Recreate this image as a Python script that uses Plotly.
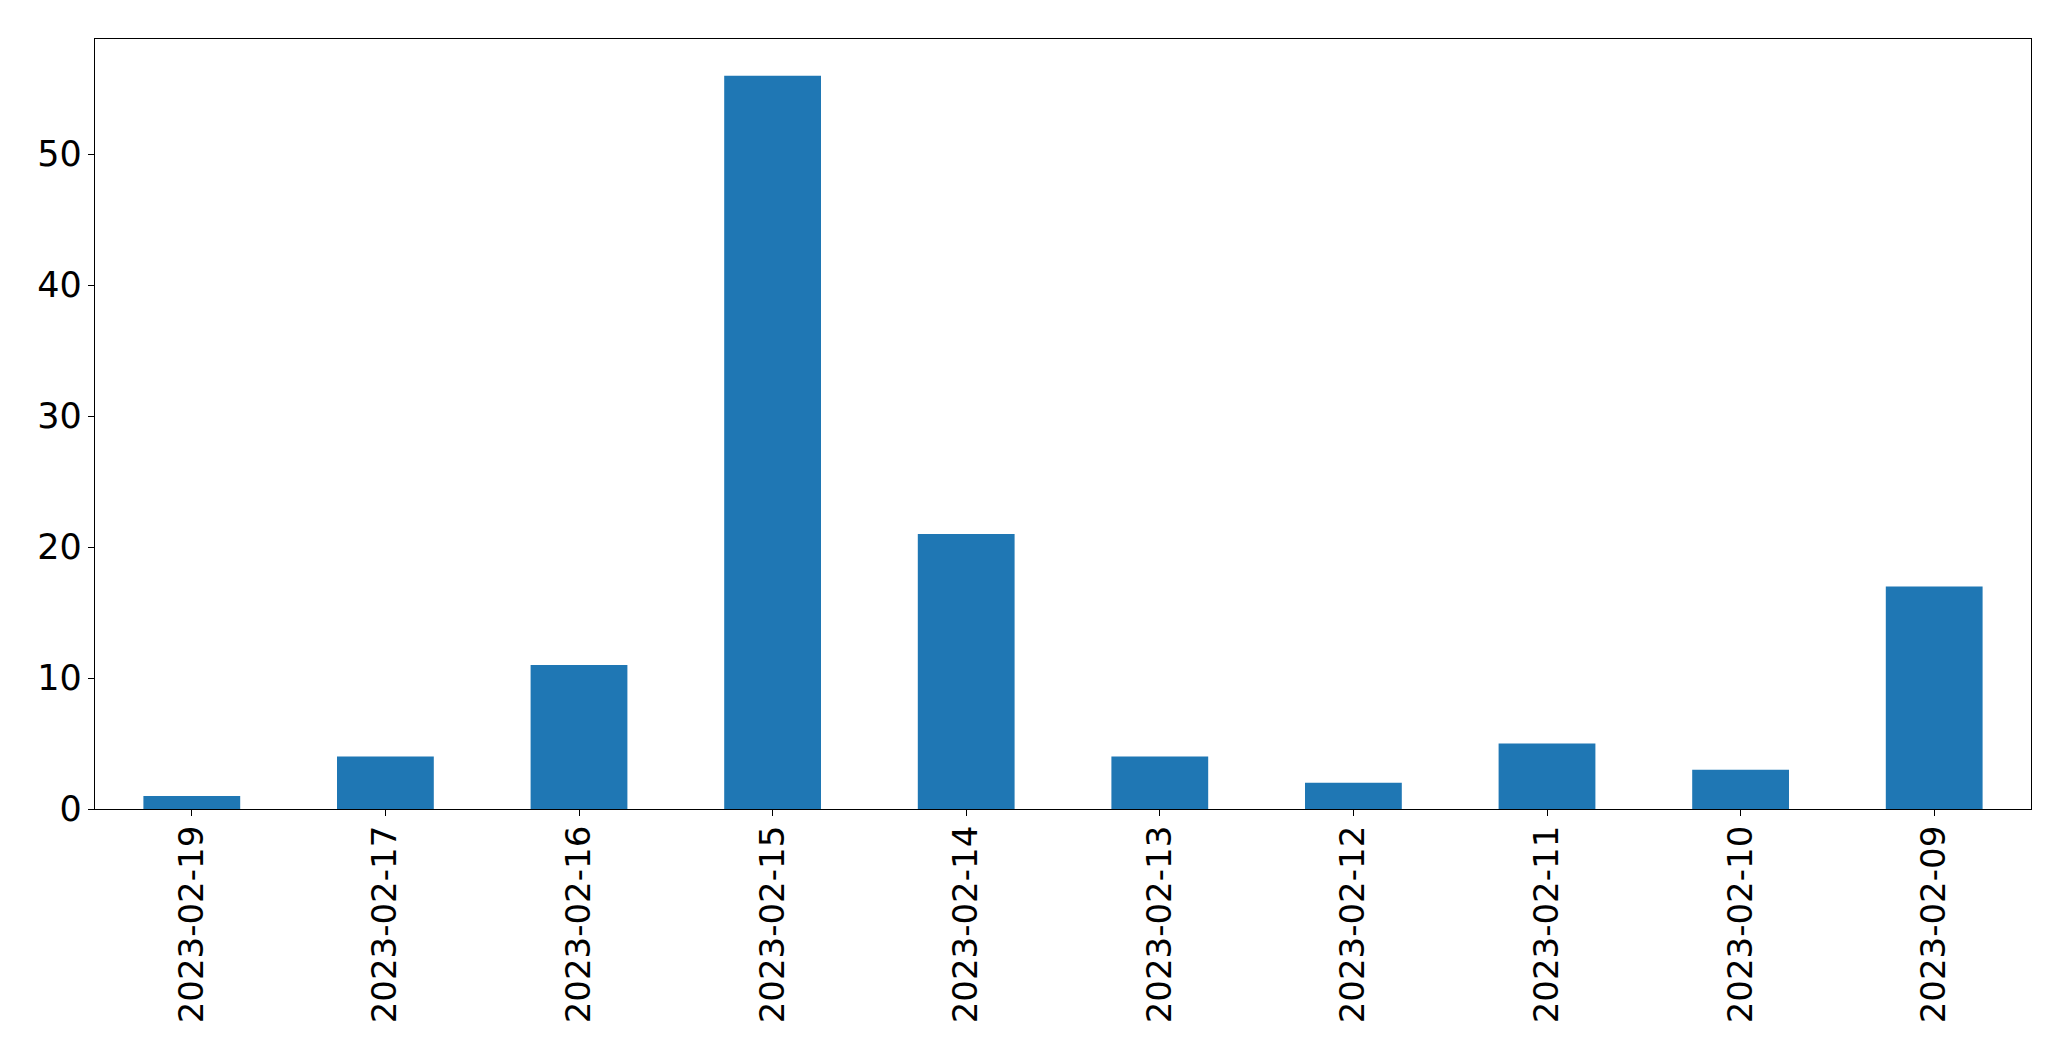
import plotly.graph_objects as go

dates = ["2023-02-19", "2023-02-17", "2023-02-16", "2023-02-15", "2023-02-14",
         "2023-02-13", "2023-02-12", "2023-02-11", "2023-02-10", "2023-02-09"]
counts = [1, 4, 11, 56, 21, 4, 2, 5, 3, 17]
y_ticks = [0, 10, 20, 30, 40, 50]

fig = go.Figure(go.Bar(x=dates, y=counts, marker=dict(color="#1f77b4", line=dict(width=0)), width=0.5))

fig.update_layout(
    width=2071, height=1061,
    margin=dict(l=87, r=48, t=31, b=260, pad=0),
    paper_bgcolor="white", plot_bgcolor="white",
    font=dict(family="DejaVu Sans", size=34, color="black"),
    showlegend=False,
)
fig.update_xaxes(
    type="category", range=[-0.5, 9.5], tickangle=-90,
    showline=True, mirror=True, linecolor="black", linewidth=1.3,
    ticks="outside", ticklen=6, tickwidth=1.3, tickcolor="black",
    showgrid=False, zeroline=False, tickfont=dict(size=34),
    ticklabelstandoff=-4, automargin=False,
)
fig.update_yaxes(
    range=[0, 58.8], tickvals=y_ticks,
    showline=True, mirror=True, linecolor="black", linewidth=1.3,
    ticks="outside", ticklen=6, tickwidth=1.3, tickcolor="black",
    showgrid=False, zeroline=False, tickfont=dict(size=35),
    ticklabelstandoff=-1, automargin=False,
)
fig.write_html("out.html")
